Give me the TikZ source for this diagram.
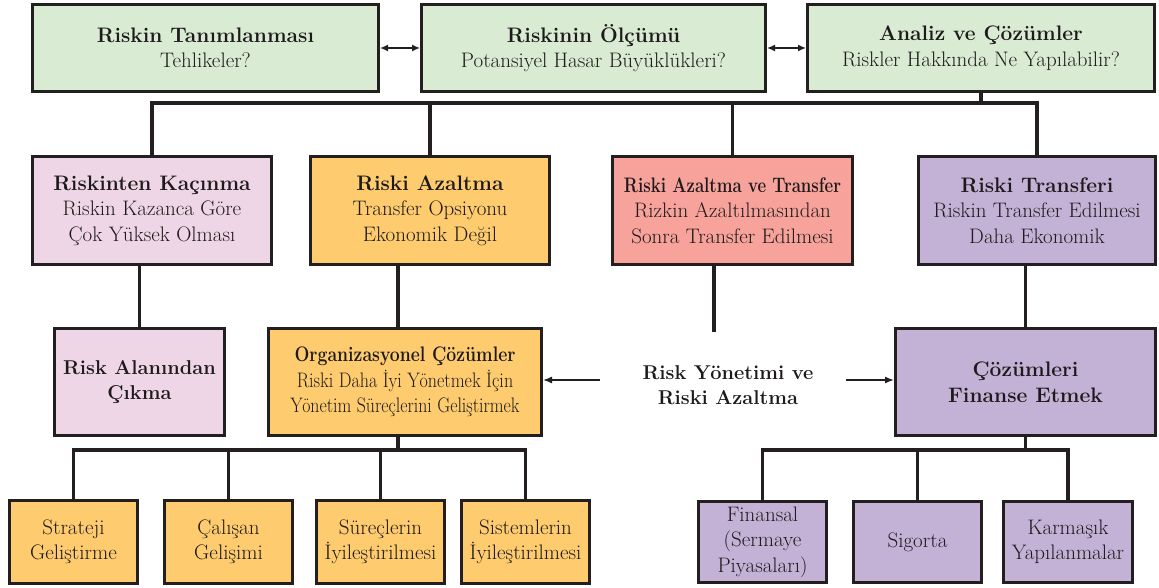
\documentclass[tikz,border=0pt]{standalone}
\usepackage{fontspec}
\usetikzlibrary{arrows.meta,calc}
\definecolor{cline}{RGB}{35,31,32}
\definecolor{ctext}{RGB}{30,26,27}
\definecolor{cgreen}{RGB}{217,235,211}
\definecolor{cpink}{RGB}{238,214,230}
\definecolor{corange}{RGB}{254,204,111}
\definecolor{csalmon}{RGB}{247,163,155}
\definecolor{cpurple}{RGB}{196,178,214}
\begin{document}
\begin{tikzpicture}[x=1pt,y=-1pt,
  box/.style={draw=cline, line width=3pt, inner sep=0pt, align=center,
    font=\fontsize{21}{25.5}\selectfont, text=ctext},
  conn/.style={draw=cline, line width=3.2pt},
  arr/.style={draw=cline, line width=1.4pt, -{Latex[length=9pt,width=7pt]}},
  darr/.style={draw=cline, line width=1.4pt, {Latex[length=8pt,width=7pt]}-{Latex[length=8pt,width=7pt]}},
  sz/.style n args={2}{minimum width=#1pt, minimum height=#2pt}]
\useasboundingbox (0,0) rectangle (1159,588);
\fill[white] (0,0) rectangle (1159,588);
% top row
\node[box, fill=cgreen, sz={346}{87}] (t1) at (205.5,48) {\textbf{Riskin Tanımlanması}\\Tehlikeler?};
\node[box, fill=cgreen, sz={344}{87}] (t2) at (593.5,48) {\textbf{Riskinin Ölçümü}\\Potansiyel Hasar Büyüklükleri?};
\node[box, fill=cgreen, sz={347}{87}] (t3) at (981,48) {\textbf{Analiz ve Çözümler}\\Riskler Hakkında Ne Yapılabilir?};
\draw[darr] (t1.east) -- (t2.west);
\draw[darr] (t2.east) -- (t3.west);
% second row
\node[box, fill=cpink, sz={239}{108}] (r1) at (152,210.5) {\textbf{Riskinten Kaçınma}\\Riskin Kazanca Göre\\Çok Yüksek Olması};
\node[box, fill=corange, sz={239}{108}] (r2) at (430,210.5) {\textbf{Riski Azaltma}\\Transfer Opsiyonu\\Ekonomik Değil};
\node[box, fill=csalmon, sz={240}{108}] (r3) at (732.5,210.5) {\scalebox{0.8}[1]{\textbf{Riski Azaltma ve Transfer}}\\Rizkin Azaltılmasından\\Sonra Transfer Edilmesi};
\node[box, fill=cpurple, sz={237}{108}] (r4) at (1037,210.5) {\textbf{Riski Transferi}\\Riskin Transfer Edilmesi\\Daha Ekonomik};
\coordinate (bus) at (0,103);
\draw[conn] (t3.south) -- (t3.south |- bus);
\draw[conn] (r1.north) -- (r1.north |- bus) -- (r4.north |- bus) -- (r4.north);
\draw[conn] (r2.north) -- (r2.north |- bus);
\draw[conn] (r3.north) -- (r3.north |- bus);
% third row
\node[box, fill=cpink, sz={170}{107}, font=\fontsize{20}{25.5}\selectfont\bfseries] (a1) at (139.5,382) {Risk Alanından\\Çıkma};
\node[box, fill=corange, sz={273}{107}] (org) at (405,382) {\scalebox{0.84}[1]{\textbf{Organizasyonel Çözümler}}\\\scalebox{0.86}[1]{Riski Daha İyi Yönetmek İçin}\\\scalebox{0.85}[1]{Yönetim Süreçlerini Geliştirmek}};
\node[box, fill=cpurple, sz={260}{107}, font=\fontsize{21}{25.5}\selectfont\bfseries] (fin) at (1025.5,382) {Çözümleri\\Finanse Etmek};
\node[align=center, text=ctext, font=\fontsize{20}{25}\selectfont\bfseries] (rm) at (728,385) {Risk Yönetimi ve\\Riski Azaltma};
\draw[conn] (a1.north) -- (a1.north |- r1.south);
\coordinate (oN) at ([xshift=-7pt]org.north);
\draw[conn] (oN) -- (oN |- r2.south);
\coordinate (rd) at (714,332);
\draw[conn] (rd |- r3.south) -- (rd);
\draw[conn] (fin.north) -- (fin.north |- r4.south);
\coordinate (la) at (600,380);
\coordinate (ra) at (846,380);
\draw[arr] (la) -- (la -| org.east);
\draw[arr] (ra) -- (ra -| fin.west);
% bottom row
\node[box, fill=corange, sz={128}{83}] (s1) at (73.5,542) {Strateji\\Geliştirme};
\node[box, fill=corange, sz={128}{83}] (s2) at (228.5,542) {Çalışan\\Gelişimi};
\node[box, fill=corange, sz={128}{83}] (s3) at (380.5,542) {Süreçlerin\\İyileştirilmesi};
\node[box, fill=corange, sz={128}{83}] (s4) at (525.5,542) {Sistemlerin\\İyileştirilmesi};
\node[box, fill=cpurple, sz={128}{81}] (f1) at (762.5,542) {Finansal\\(Sermaye\\Piyasaları)};
\node[box, fill=cpurple, sz={128}{81}] (f2) at (917.5,542) {Sigorta};
\node[box, fill=cpurple, sz={129}{81}] (f3) at (1068,542) {Karmaşık\\Yapılanmalar};
\coordinate (bus2) at (0,450);
\coordinate (oS) at ([xshift=-7pt]org.south);
\draw[conn] (oS) -- (oS |- bus2);
\draw[conn] (s1.north) -- (s1.north |- bus2) -- (s4.north |- bus2) -- (s4.north);
\draw[conn] (s2.north) -- (s2.north |- bus2);
\draw[conn] (s3.north) -- (s3.north |- bus2);
\draw[conn] (fin.south) -- (fin.south |- bus2);
\draw[conn] (f1.north) -- (f1.north |- bus2) -- (f3.north |- bus2) -- (f3.north);
\draw[conn] (f2.north) -- (f2.north |- bus2);
\end{tikzpicture}
\end{document}
